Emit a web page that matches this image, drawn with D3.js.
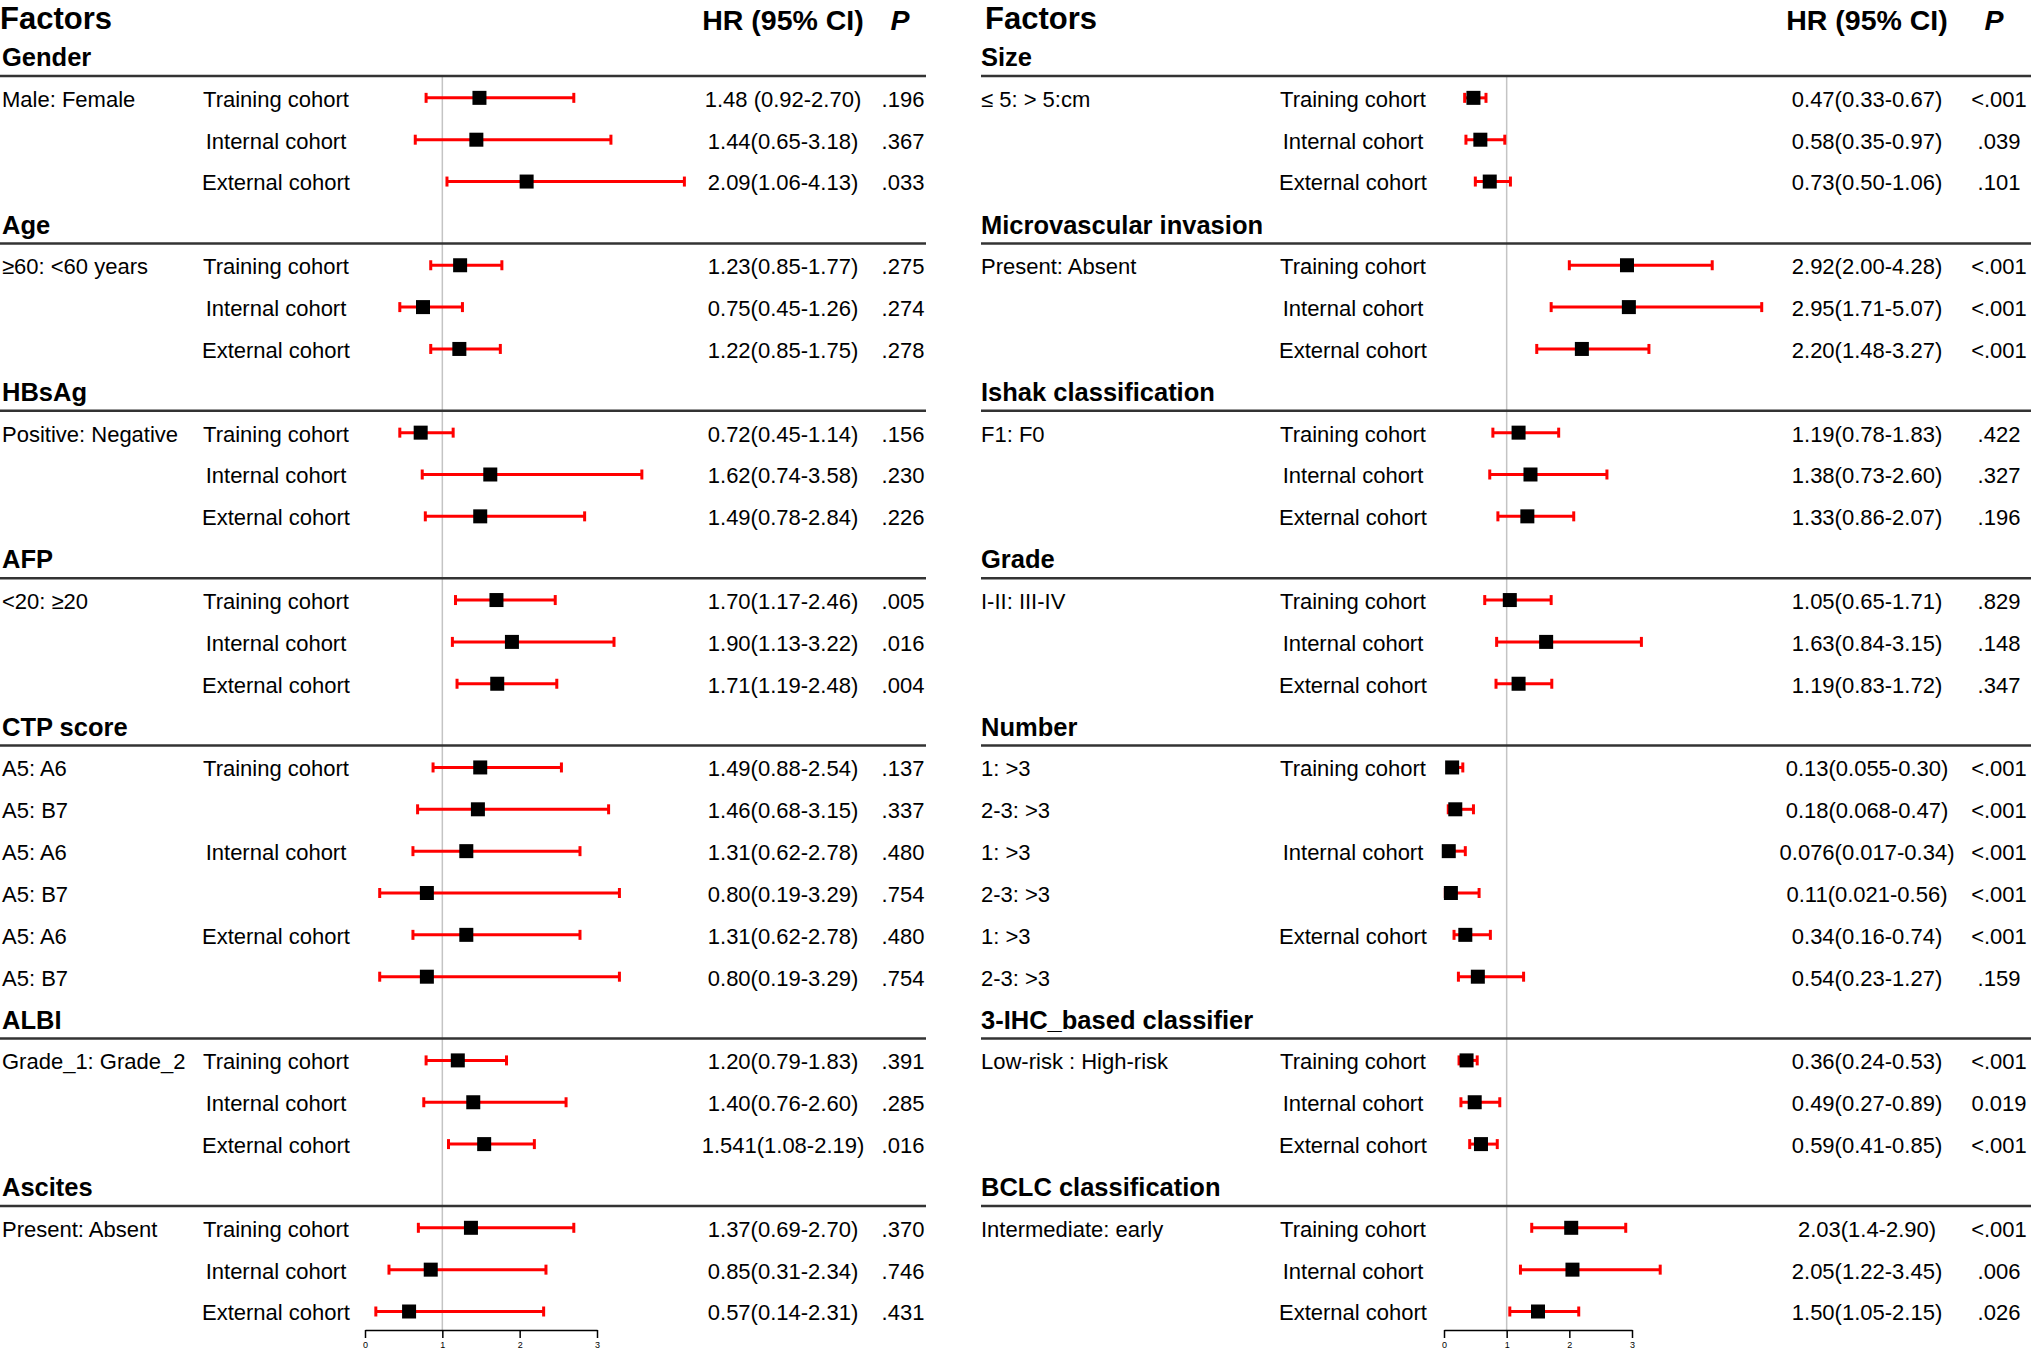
<!DOCTYPE html>
<html>
<head>
<meta charset="utf-8">
<title>Forest plot</title>
<style>
    body{ margin:0; background:#fff; }
    text{ font-family:"Liberation Sans", Arial, sans-serif; fill:#000; }
    .title{ font-size:31px; font-weight:bold; }
    .colhead{ font-size:28.5px; font-weight:bold; }
    .group{ font-size:25.5px; font-weight:bold; }
    .cell{ font-size:22px; }
    .sep{ stroke:#333; stroke-width:2.5; }
    .ref{ stroke:#c4c4c4; stroke-width:1.5; }
    .ci{ stroke:#ff0000; stroke-width:3; fill:none; }
    .box{ fill:#000; }
    .axis path, .axis line{ stroke:#000; stroke-width:1.5; }
    .axis text{ font-size:9px; }
</style>
</head>
<body>
<script src="https://cdn.jsdelivr.net/npm/d3@7"></script>
<script>
// ---- left panel data ----
var leftGroups = ["Gender","Age","HBsAg","AFP","CTP score","ALBI","Ascites"];
var leftGroupSize = [3,3,3,3,6,3,3];
var leftFactor = ["Male: Female","","", "\u226560: <60 years","","", "Positive: Negative","","", "<20: \u226520","","",
                  "A5: A6","A5: B7","A5: A6","A5: B7","A5: A6","A5: B7", "Grade_1: Grade_2","","", "Present: Absent","",""];
var leftCohort = ["Training cohort","Internal cohort","External cohort","Training cohort","Internal cohort","External cohort",
                  "Training cohort","Internal cohort","External cohort","Training cohort","Internal cohort","External cohort",
                  "Training cohort","","Internal cohort","","External cohort","",
                  "Training cohort","Internal cohort","External cohort","Training cohort","Internal cohort","External cohort"];
var leftHR = [1.48,1.44,2.09, 1.23,0.75,1.22, 0.72,1.62,1.49, 1.70,1.90,1.71, 1.49,1.46,1.31,0.80,1.31,0.80, 1.20,1.40,1.541, 1.37,0.85,0.57];
var leftLo = [0.79,0.65,1.06, 0.85,0.45,0.85, 0.45,0.74,0.78, 1.17,1.13,1.19, 0.88,0.68,0.62,0.19,0.62,0.19, 0.79,0.76,1.08, 0.69,0.31,0.14];
var leftHi = [2.70,3.18,4.13, 1.77,1.26,1.75, 1.14,3.58,2.84, 2.46,3.22,2.48, 2.54,3.15,2.78,3.29,2.78,3.29, 1.83,2.60,2.19, 2.70,2.34,2.31];
var leftCI = ["1.48 (0.92-2.70)","1.44(0.65-3.18)","2.09(1.06-4.13)","1.23(0.85-1.77)","0.75(0.45-1.26)","1.22(0.85-1.75)",
              "0.72(0.45-1.14)","1.62(0.74-3.58)","1.49(0.78-2.84)","1.70(1.17-2.46)","1.90(1.13-3.22)","1.71(1.19-2.48)",
              "1.49(0.88-2.54)","1.46(0.68-3.15)","1.31(0.62-2.78)","0.80(0.19-3.29)","1.31(0.62-2.78)","0.80(0.19-3.29)",
              "1.20(0.79-1.83)","1.40(0.76-2.60)","1.541(1.08-2.19)","1.37(0.69-2.70)","0.85(0.31-2.34)","0.57(0.14-2.31)"];
var leftP = [".196",".367",".033",".275",".274",".278",".156",".230",".226",".005",".016",".004",
             ".137",".337",".480",".754",".480",".754",".391",".285",".016",".370",".746",".431"];

// ---- right panel data ----
var rightGroups = ["Size","Microvascular invasion","Ishak classification","Grade","Number","3-IHC_based classifier","BCLC classification"];
var rightGroupSize = [3,3,3,3,6,3,3];
var rightFactor = ["\u2264 5: > 5:cm","","", "Present: Absent","","", "F1: F0","","", "I-II: III-IV","","",
                   "1: >3","2-3: >3","1: >3","2-3: >3","1: >3","2-3: >3", "Low-risk : High-risk","","", "Intermediate: early","",""];
var rightCohort = leftCohort.slice();
var rightHR = [0.47,0.58,0.73, 2.92,2.95,2.20, 1.19,1.38,1.33, 1.05,1.63,1.19, 0.13,0.18,0.076,0.11,0.34,0.54, 0.36,0.49,0.59, 2.03,2.05,1.50];
var rightLo = [0.33,0.35,0.50, 2.00,1.71,1.48, 0.78,0.73,0.86, 0.65,0.84,0.83, 0.055,0.068,0.017,0.021,0.16,0.23, 0.24,0.27,0.41, 1.4,1.22,1.05];
var rightHi = [0.67,0.97,1.06, 4.28,5.07,3.27, 1.83,2.60,2.07, 1.71,3.15,1.72, 0.30,0.47,0.34,0.56,0.74,1.27, 0.53,0.89,0.85, 2.90,3.45,2.15];
var rightCI = ["0.47(0.33-0.67)","0.58(0.35-0.97)","0.73(0.50-1.06)","2.92(2.00-4.28)","2.95(1.71-5.07)","2.20(1.48-3.27)",
               "1.19(0.78-1.83)","1.38(0.73-2.60)","1.33(0.86-2.07)","1.05(0.65-1.71)","1.63(0.84-3.15)","1.19(0.83-1.72)",
               "0.13(0.055-0.30)","0.18(0.068-0.47)","0.076(0.017-0.34)","0.11(0.021-0.56)","0.34(0.16-0.74)","0.54(0.23-1.27)",
               "0.36(0.24-0.53)","0.49(0.27-0.89)","0.59(0.41-0.85)","2.03(1.4-2.90)","2.05(1.22-3.45)","1.50(1.05-2.15)"];
var rightP = ["<.001",".039",".101","<.001","<.001","<.001",".422",".327",".196",".829",".148",".347",
              "<.001","<.001","<.001","<.001","<.001",".159","<.001","0.019","<.001","<.001",".006",".026"];

var axisTicks = [0,1,2,3];

var width = 2031, height = 1356;
var rowTop = 57, rowH = 41.85, axisY = 1330;

var svg = d3.select("body").append("svg")
            .attr("width", width)
            .attr("height", height);
svg.append("rect").attr("width", width).attr("height", height).attr("fill", "#fff");

function drawPanel(p){
    var g = svg.append("g");
    var x = d3.scaleLinear().domain([0,3]).range(p.range);

    g.append("text").attr("class","title").attr("x", p.titleX).attr("y", 29).text("Factors");
    g.append("text").attr("class","colhead").attr("x", p.hrX).attr("y", 30)
     .attr("text-anchor","middle").text("HR (95% CI)");
    g.append("text").attr("class","colhead").attr("x", p.pHeadX).attr("y", 30)
     .attr("text-anchor","middle").style("font-style","italic").text("P");

    // build row list: group headers then their rows
    var rows = [], k = 0, idx = 0;
    p.groups.forEach(function(name, gi){
        rows.push({type:"group", name:name, y: rowTop + k*rowH});
        k++;
        for(var j=0;j<p.sizes[gi];j++){
            rows.push({type:"row", i:idx, y: rowTop + k*rowH});
            k++; idx++;
        }
    });
    var groupRows = rows.filter(function(r){ return r.type=="group"; });
    var dataRows = rows.filter(function(r){ return r.type=="row"; });

    // reference line at HR = 1
    g.append("line").attr("class","ref")
     .attr("x1", x(1)).attr("x2", x(1))
     .attr("y1", groupRows[0].y + 19).attr("y2", axisY);

    groupRows.forEach(function(r){
        g.append("text").attr("class","group").attr("x", p.labelX).attr("y", r.y).attr("dy","0.36em").text(r.name);
        g.append("line").attr("class","sep")
         .attr("x1", p.x0).attr("x2", p.x1)
         .attr("y1", r.y + 19).attr("y2", r.y + 19);
    });

    dataRows.forEach(function(r){
        var i = r.i;
        g.append("text").attr("class","cell").attr("x", p.labelX).attr("y", r.y).attr("dy","0.36em").text(p.factor[i]);
        g.append("text").attr("class","cell").attr("x", p.cohortX).attr("y", r.y).attr("dy","0.36em")
         .attr("text-anchor","middle").text(p.cohort[i]);
        g.append("text").attr("class","cell").attr("x", p.hrX).attr("y", r.y).attr("dy","0.36em")
         .attr("text-anchor","middle").text(p.ci[i]);
        g.append("text").attr("class","cell").attr("x", p.pX).attr("y", r.y).attr("dy","0.36em")
         .attr("text-anchor","middle").text(p.pv[i]);

        var cy = r.y - 1;
        g.append("line").attr("class","ci").attr("x1", x(p.lo[i])).attr("x2", x(p.hi[i])).attr("y1", cy).attr("y2", cy);
        g.append("line").attr("class","ci").attr("x1", x(p.lo[i])).attr("x2", x(p.lo[i])).attr("y1", cy-5).attr("y2", cy+5);
        g.append("line").attr("class","ci").attr("x1", x(p.hi[i])).attr("x2", x(p.hi[i])).attr("y1", cy-5).attr("y2", cy+5);
        g.append("rect").attr("class","box").attr("x", x(p.hr[i]) - 7).attr("y", cy - 7)
         .attr("width", 14).attr("height", 14);
    });

    var ax = g.append("g").attr("class","axis").attr("transform","translate(0," + axisY + ")")
              .call(d3.axisBottom(x).tickValues(axisTicks).tickSize(8).tickSizeOuter(0).tickFormat(d3.format("d")));
    ax.selectAll("text").attr("y", 12);
}

drawPanel({groups:leftGroups, sizes:leftGroupSize, factor:leftFactor, cohort:leftCohort,
           hr:leftHR, lo:leftLo, hi:leftHi, ci:leftCI, pv:leftP,
           x0:0, x1:926, titleX:0, labelX:2, cohortX:276, hrX:783, pX:903, pHeadX:900, range:[365,597]});
drawPanel({groups:rightGroups, sizes:rightGroupSize, factor:rightFactor, cohort:rightCohort,
           hr:rightHR, lo:rightLo, hi:rightHi, ci:rightCI, pv:rightP,
           x0:981, x1:2031, titleX:985, labelX:981, cohortX:1353, hrX:1867, pX:1999, pHeadX:1994, range:[1444,1632]});
</script>
</body>
</html>
